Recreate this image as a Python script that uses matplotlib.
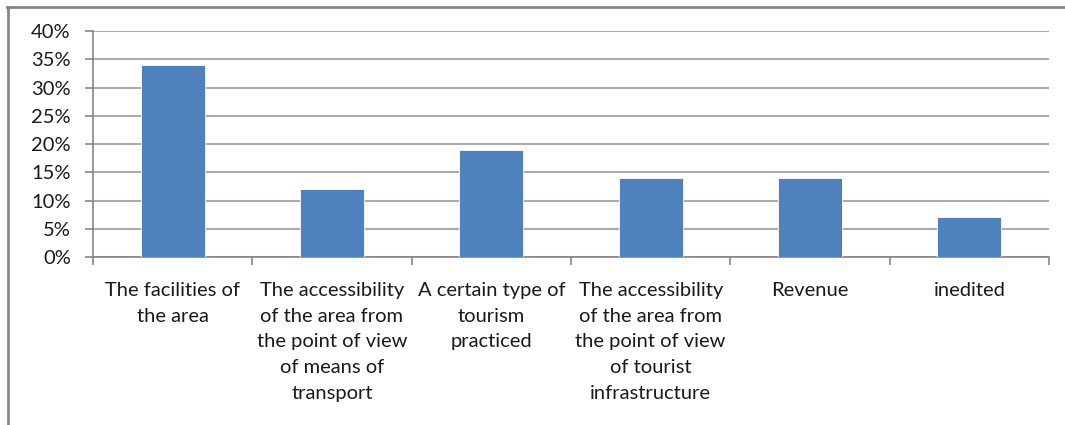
import numpy as np
import matplotlib.pyplot as plt
from matplotlib.ticker import PercentFormatter, FixedLocator

plt.rcParams['font.family'] = ['Lato', 'DejaVu Sans']

categories = [
    'The facilities of\nthe area',
    'The accessibility\nof the area from\nthe point of view\nof means of\ntransport',
    'A certain type of\ntourism\npracticed',
    'The accessibility\nof the area from\nthe point of view\nof tourist\ninfrastructure',
    'Revenue',
    'inedited',
]
shares = [0.34, 0.12, 0.19, 0.14, 0.14, 0.07]

fig = plt.figure(figsize=(10.65, 4.25), dpi=100)
ax = fig.add_axes([0.0873, 0.3953, 0.8977, 0.5317])

x = np.arange(len(categories))
ax.bar(x, shares, width=0.4, color='#4F81BD', edgecolor='white', linewidth=0.6, zorder=3)

ax.set_xlim(-0.5, len(categories) - 0.5)
ax.set_ylim(0, 0.40)
ax.set_yticks(np.arange(0, 0.41, 0.05))
ax.yaxis.set_major_formatter(PercentFormatter(1.0, decimals=0))
ax.grid(axis='y', color='#ababab', linewidth=1.5, zorder=0)

ax.set_xticks(x)
ax.set_xticklabels(categories, fontsize=14.5, color='#1a1a1a', linespacing=1.62)
ax.tick_params(axis='x', which='major', length=0, pad=18)
ax.xaxis.set_minor_locator(FixedLocator(np.arange(-0.5, len(categories), 1.0)))
ax.tick_params(axis='x', which='minor', length=6, color='#868686', width=1.2)
ax.tick_params(axis='y', length=6, color='#868686', width=1.2, labelsize=14.5,
               labelcolor='#1a1a1a', pad=10)

for side in ('top', 'right'):
    ax.spines[side].set_visible(False)
for side in ('left', 'bottom'):
    ax.spines[side].set_color('#868686')
    ax.spines[side].set_linewidth(1.2)

# outer chart frame, only top and left edges show
fig.add_artist(plt.Line2D([7 / 1065, 1], [1 - 6.5 / 425] * 2, color='#868686', linewidth=2))
fig.add_artist(plt.Line2D([8 / 1065] * 2, [0, 1 - 6.5 / 425], color='#868686', linewidth=2))

fig.savefig('out.png', dpi=100)
